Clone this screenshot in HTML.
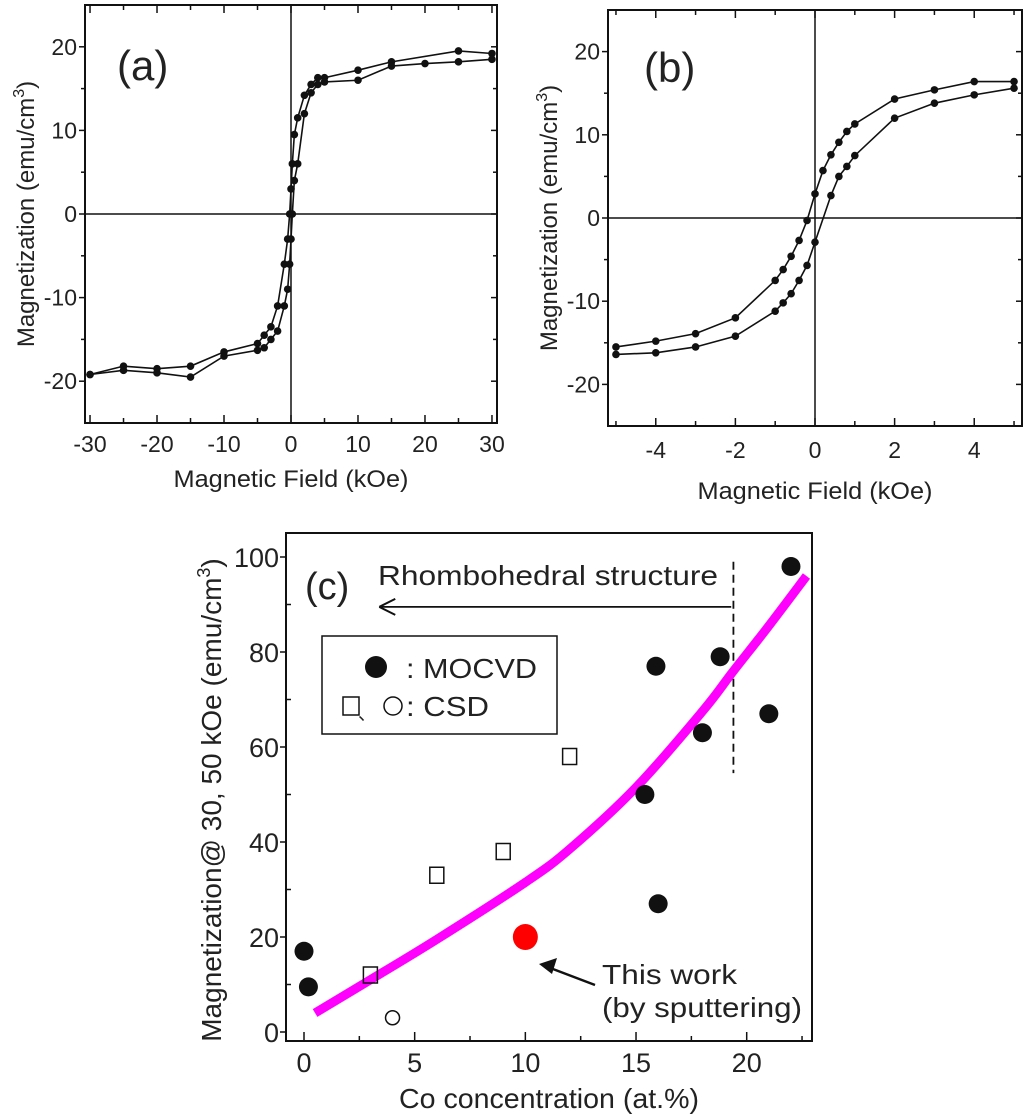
<!DOCTYPE html>
<html><head><meta charset="utf-8">
<style>
html,body{margin:0;padding:0;background:#fff;}
svg{display:block;}
text{font-family:"Liberation Sans",Arial,sans-serif;fill:#222;}
</style></head>
<body>
<svg id="fig" width="1024" height="1119" viewBox="0 0 1024 1119" xmlns="http://www.w3.org/2000/svg">
<g id="pa"></g>
<g id="pb"></g>
<g id="pc"></g>
</svg>
<script>
// ---- Panel (a) data ----
const aUpperH = [30,25,15,10,5,4,3,2,1,0.5,0.2,0,-0.2,-0.5,-1,-2,-3,-4,-5,-10,-15,-20,-25,-30];
const aUpperM = [19.2,19.5,18.2,17.2,16.3,16.3,15.5,14.2,11.5,9.5,6,3,0,-3,-6,-11,-13.5,-14.5,-15.5,-16.5,-18.2,-18.5,-18.2,-19.2];
const aLowerH = [-30,-25,-20,-15,-10,-5,-4,-3,-2,-1,-0.5,-0.2,0,0.2,0.5,1,2,3,4,5,10,15,20,25,30];
const aLowerM = [-19.2,-18.7,-19,-19.5,-17,-16.3,-16,-15,-14,-11,-9,-6,-3,0,4,6,12,14.5,15.5,15.8,16,17.7,18,18.2,18.5];
const aXTicks = [-30,-20,-10,0,10,20,30];
const aYTicks = [-20,-10,0,10,20];
// ---- Panel (b) data ----
const bUpperH = [5,4,3,2,1,0.8,0.6,0.4,0.2,0,-0.2,-0.4,-0.6,-0.8,-1,-2,-3,-4,-5];
const bUpperM = [16.4,16.4,15.4,14.3,11.3,10.4,9.1,7.6,5.7,2.9,-0.3,-2.7,-4.6,-6.2,-7.5,-12,-13.9,-14.8,-15.5];
const bLowerH = [-5,-4,-3,-2,-1,-0.8,-0.6,-0.4,-0.2,0,0.4,0.6,0.8,1,2,3,4,5];
const bLowerM = [-16.4,-16.2,-15.5,-14.2,-11.2,-10.2,-9.1,-7.5,-5.7,-2.9,2.7,5,6.2,7.5,12,13.8,14.8,15.6];
const bXTicks = [-4,-2,0,2,4];
const bYTicks = [-20,-10,0,10,20];
// ---- Panel (c) data ----
const mocvdX = [0,0.2,15.4,15.9,16,18,18.8,21,22];
const mocvdY = [17,9.5,50,77,27,63,79,67,98];
const csdSqX = [3,6,9,12];
const csdSqY = [12,33,38,58];
const csdCircX = [4];
const csdCircY = [3];
const thisWorkX = [10];
const thisWorkY = [20];
const fitX = [0.5,3,6,10,12,15,18,19.4,21,22.7];
const fitY = [4,11,19.5,31.5,38.5,51.5,67.5,76,85.5,96];
const cXTicks = [0,5,10,15,20];
const cYTicks = [0,20,40,60,80,100];

const NS="http://www.w3.org/2000/svg";
function mk(parent,tag,attrs,txt){const e=document.createElementNS(NS,tag);for(const k in attrs)e.setAttribute(k,attrs[k]);if(txt!==undefined)e.textContent=txt;parent.appendChild(e);return e;}
function lin(d0,d1,r0,r1){return v=>r0+(v-d0)*(r1-r0)/(d1-d0);}

function hystPanel(g,cfg){
  const X=lin(cfg.xmin,cfg.xmax,cfg.L,cfg.R), Y=lin(cfg.ymin,cfg.ymax,cfg.B,cfg.T);
  const fr=mk(g,'rect',{x:cfg.L,y:cfg.T,width:cfg.R-cfg.L,height:cfg.B-cfg.T,fill:'none',stroke:'#111','stroke-width':2});
  
  
  const zx=mk(g,'line',{x1:X(0),x2:X(0),y1:cfg.T,y2:cfg.B,stroke:'#111','stroke-width':1.5});
  
  
  const zy=mk(g,'line',{x1:cfg.L,x2:cfg.R,y1:Y(0),y2:Y(0),stroke:'#111','stroke-width':1.5});
  
  
  for(let v=cfg.xMinorStart; v<=cfg.xmax+1e-9; v+=cfg.xMinor){
    const major=cfg.xTicks.some(t=>Math.abs(t-v)<1e-6);
    const len=major?8:5;
    mk(g,'line',{x1:X(v),x2:X(v),y1:cfg.B,y2:cfg.B-len,stroke:'#111','stroke-width':1.5});
    mk(g,'line',{x1:X(v),x2:X(v),y1:cfg.T,y2:cfg.T+len,stroke:'#111','stroke-width':1.5});
  }
  for(let v=cfg.ymin+5; v<cfg.ymax; v+=5){
    const major=cfg.yTicks.some(t=>Math.abs(t-v)<1e-6);
    mk(g,'line',{x1:cfg.L,x2:cfg.L-(major?6:4),y1:Y(v),y2:Y(v),stroke:'#111','stroke-width':1.5});
    mk(g,'line',{x1:cfg.R,x2:cfg.R-(major?6:4),y1:Y(v),y2:Y(v),stroke:'#111','stroke-width':1.5});
  }
  cfg.xTicks.forEach(t=>{
    const e=mk(g,'text',{x:X(t),y:cfg.xlb,'text-anchor':'middle','font-size':23},String(t));
    
    
  });
  cfg.yTicks.forEach(t=>{
    const e=mk(g,'text',{x:cfg.L-8,y:Y(t)+8,'text-anchor':'end','font-size':23},String(t));
    
    
  });
  const xt=mk(g,'text',{x:(cfg.L+cfg.R)/2,y:cfg.xtb,'text-anchor':'middle','font-size':24,textLength:235,lengthAdjust:'spacingAndGlyphs'},'Magnetic Field (kOe)');
  
  
  const yt=mk(g,'text',{x:0,y:0,'text-anchor':'middle','font-size':24,transform:`translate(${cfg.ytx},${(cfg.T+cfg.B)/2}) rotate(-90)`});
  yt.appendChild(document.createTextNode('Magnetization (emu/cm'));
  mk(yt,'tspan',{dy:-10,'font-size':16},'3');
  mk(yt,'tspan',{dy:10},')');
  
  
  const pl=mk(g,'text',{x:cfg.lx,y:cfg.ly,'font-size':42,fill:'#111'},cfg.label);
  
  
  [[cfg.uh,cfg.um,'upper-branch'],[cfg.lh,cfg.lm,'lower-branch']].forEach(([hs,ms,nm])=>{
    const pts=hs.map((h,i)=>X(h)+','+Y(ms[i])).join(' ');
    const p=mk(g,'polyline',{points:pts,fill:'none',stroke:'#111','stroke-width':1.6});
    
    
    hs.forEach((h,i)=>{
      const c=mk(g,'circle',{cx:X(h),cy:Y(ms[i]),r:3.8,fill:'#111'});
      
      
    });
  });
}

hystPanel(document.getElementById('pa'),{L:85,R:497,T:5,B:423,xmin:-30.75,xmax:30.75,ymin:-25,ymax:25,
  xMinor:5,xMinorStart:-30,xTicks:aXTicks,yTicks:aYTicks,uh:aUpperH,um:aUpperM,lh:aLowerH,lm:aLowerM,
  ytx:34,label:'(a)',lx:117,ly:80,xlb:452,xtb:487});
hystPanel(document.getElementById('pb'),{L:608,R:1022,T:10,B:426,xmin:-5.2,xmax:5.2,ymin:-25,ymax:25,
  xMinor:1,xMinorStart:-5,xTicks:bXTicks,yTicks:bYTicks,uh:bUpperH,um:bUpperM,lh:bLowerH,lm:bLowerM,
  ytx:557,label:'(b)',lx:644,ly:82,xlb:458,xtb:499});

// ---- Panel (c) ----
(function(){
  const g=document.getElementById('pc');
  const L=286,R=812,T=533,B=1041;
  const X=lin(0,20,304,746.7), Y=lin(0,100,1032,557);
  const fr=mk(g,'rect',{x:L,y:T,width:R-L,height:B-T,fill:'none',stroke:'#111','stroke-width':2});
  
  
  for(let v=0; v<=22.5; v+=2.5){
    const major=cXTicks.some(t=>Math.abs(t-v)<1e-6);
    mk(g,'line',{x1:X(v),x2:X(v),y1:B,y2:B-(major?9:5),stroke:'#111','stroke-width':1.5});
  }
  for(let v=0; v<=100; v+=10){
    const major=cYTicks.some(t=>Math.abs(t-v)<1e-6);
    mk(g,'line',{x1:L,x2:L+(major?-6:5),y1:Y(v),y2:Y(v),stroke:'#111','stroke-width':1.5});
  }
  cXTicks.forEach(t=>{
    const e=mk(g,'text',{x:X(t),y:1072,'text-anchor':'middle','font-size':27},String(t));
    
    
  });
  cYTicks.forEach(t=>{
    const e=mk(g,'text',{x:L-7,y:Y(t)+10,'text-anchor':'end','font-size':27},String(t));
    
    
  });
  const xt=mk(g,'text',{x:549,y:1108,'text-anchor':'middle','font-size':28,textLength:300,lengthAdjust:'spacingAndGlyphs'},'Co concentration (at.%)');
  
  
  const yt=mk(g,'text',{x:0,y:0,'text-anchor':'middle','font-size':28,transform:'translate(221,800) rotate(-90)'});
  yt.appendChild(document.createTextNode('Magnetization@ 30, 50 kOe (emu/cm'));
  mk(yt,'tspan',{dy:-11,'font-size':18},'3');
  mk(yt,'tspan',{dy:11},')');
  
  
  const pl=mk(g,'text',{x:305,y:599,'font-size':38,fill:'#111'},'(c)');
  
  
  const rt=mk(g,'text',{x:378,y:585,'font-size':28,textLength:340,lengthAdjust:'spacingAndGlyphs'},'Rhombohedral structure');
  
  
  const ar=mk(g,'line',{x1:X(19.3),x2:X(3.5),y1:Y(89.5),y2:Y(89.5),stroke:'#111','stroke-width':1.8});
  
  
  mk(g,'path',{d:`M${X(3.4)} ${Y(89.5)} l16 -8 M${X(3.4)} ${Y(89.5)} l16 8`,stroke:'#111','stroke-width':2,fill:'none'});
  const dl=mk(g,'line',{x1:X(19.4),x2:X(19.4),y1:Y(99),y2:Y(54.5),stroke:'#111','stroke-width':1.8,'stroke-dasharray':'8,5'});
  
  
  const lg=mk(g,'g',{});
  
  
  mk(lg,'rect',{x:322,y:636,width:235,height:98,fill:'#fff',stroke:'#111','stroke-width':1.5});
  mk(lg,'circle',{cx:376,cy:667,r:11,fill:'#111'});
  mk(lg,'text',{x:406,y:678,'font-size':28,textLength:131,lengthAdjust:'spacingAndGlyphs'},': MOCVD');
  mk(lg,'rect',{x:343,y:697,width:16,height:18,fill:'#fff',stroke:'#111','stroke-width':1.5});
  mk(lg,'text',{x:358,y:720,'font-size':18,'font-family':'"Noto Sans CJK JP",sans-serif'},'、');
  mk(lg,'circle',{cx:393,cy:706,r:9,fill:'#fff',stroke:'#111','stroke-width':1.5});
  mk(lg,'text',{x:406,y:716,'font-size':28,textLength:83,lengthAdjust:'spacingAndGlyphs'},': CSD');
  const px=fitX.map(X), py=fitY.map(Y);
  let d=`M${px[0]} ${py[0]}`;
  for(let i=0;i<px.length-1;i++){
    const x0=px[Math.max(i-1,0)],y0=py[Math.max(i-1,0)],x3=px[Math.min(i+2,px.length-1)],y3=py[Math.min(i+2,px.length-1)];
    const c1x=px[i]+(px[i+1]-x0)/6,c1y=py[i]+(py[i+1]-y0)/6,c2x=px[i+1]-(x3-px[i])/6,c2y=py[i+1]-(y3-py[i])/6;
    d+=` C${c1x} ${c1y} ${c2x} ${c2y} ${px[i+1]} ${py[i+1]}`;
  }
  const fc=mk(g,'path',{d:d,fill:'none',stroke:'#f0f','stroke-width':9});
  
  
  csdSqX.forEach((x,i)=>{
    const s=mk(g,'rect',{x:X(x)-7,y:Y(csdSqY[i])-8,width:14,height:16,fill:'none',stroke:'#111','stroke-width':1.5});
    
    
  });
  csdCircX.forEach((x,i)=>{
    const c=mk(g,'circle',{cx:X(x),cy:Y(csdCircY[i]),r:7,fill:'none',stroke:'#111','stroke-width':1.5});
    
    
  });
  mocvdX.forEach((x,i)=>{
    const c=mk(g,'circle',{cx:X(x),cy:Y(mocvdY[i]),r:9.5,fill:'#111'});
    
    
  });
  thisWorkX.forEach((x,i)=>{
    const c=mk(g,'ellipse',{cx:X(x),cy:Y(thisWorkY[i]),rx:12.5,ry:13,fill:'#f00'});
    
    
  });
  const ta=mk(g,'path',{d:'M595 985 L545 966',stroke:'#111','stroke-width':2.5,fill:'none'});
  
  
  mk(g,'path',{d:'M539 964 L557 958 L552 974 Z',fill:'#111'});
  const t1=mk(g,'text',{x:602,y:984,'font-size':28,textLength:135,lengthAdjust:'spacingAndGlyphs'},'This work');
  
  
  const t2=mk(g,'text',{x:602,y:1017,'font-size':28,textLength:200,lengthAdjust:'spacingAndGlyphs'},'(by sputtering)');
  
  
})();
</script>
</body></html>
